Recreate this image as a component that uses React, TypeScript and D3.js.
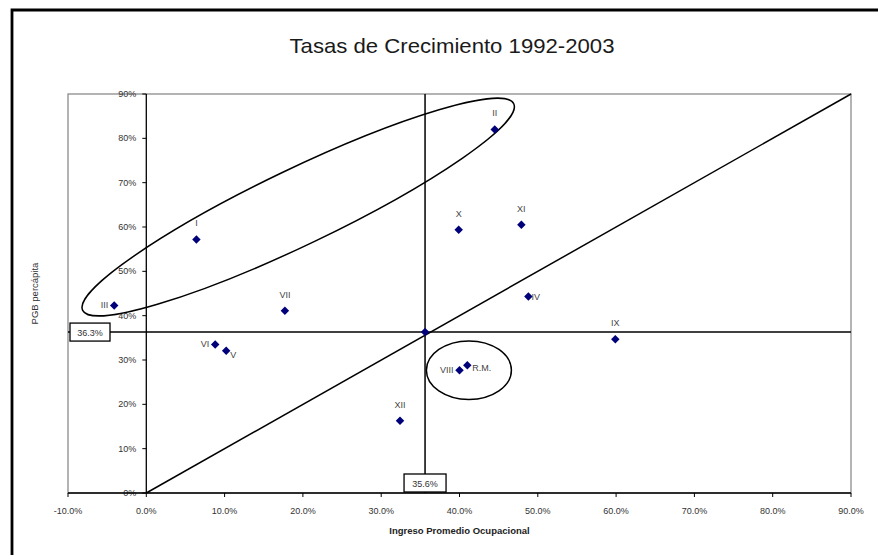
import React from "react";
import * as d3 from "d3";

// ---- Data ----
const regions = ["I", "II", "III", "IV", "V", "VI", "VII", "VIII", "IX", "X", "XI", "XII", "R.M.", ""];
const ingresoGrowth = [6.4, 44.5, -4.1, 48.8, 10.2, 8.8, 17.7, 40.0, 59.9, 39.9, 47.9, 32.4, 41.0, 35.6];
const pgbGrowth = [57.2, 82.0, 42.3, 44.3, 32.1, 33.5, 41.1, 27.7, 34.7, 59.4, 60.5, 16.3, 28.8, 36.3];
const xTicks = [-10, 0, 10, 20, 30, 40, 50, 60, 70, 80, 90];
const yTicks = [0, 10, 20, 30, 40, 50, 60, 70, 80, 90];
const avgX = 35.6;
const avgY = 36.3;
const title = "Tasas de Crecimiento 1992-2003";
const xTitle = "Ingreso Promedio Ocupacional";
const yTitle = "PGB percápita";

// label placement (layout only)
const placement: Record<string, string> = {
  I: "above", II: "above", III: "left", IV: "right", V: "belowRight", VI: "left",
  VII: "above", VIII: "left", IX: "above", X: "above", XI: "above", XII: "above", "R.M.": "rightRM",
};

const W = 878, H = 555;
const FONT = "'Liberation Sans', Arial, sans-serif";

export default function App() {
  const x = d3.scaleLinear().domain([-10, 90]).range([68, 851]);
  const y = d3.scaleLinear().domain([0, 90]).range([493, 94]);
  const pts = regions.map((r, i) => ({ r, x: ingresoGrowth[i], y: pgbGrowth[i] }));
  const marker = d3.symbol().type(d3.symbolSquare).size(36)()!;
  const diag = d3.line<number>().x((d) => x(d)).y((d) => y(d))([0, 90])!;

  const labelProps = (p: { r: string; x: number; y: number }) => {
    const px = x(p.x), py = y(p.y);
    switch (placement[p.r]) {
      case "left": return { x: px - 6, y: py + 3, anchor: "end" };
      case "right": return { x: px + 3, y: py + 3.5, anchor: "start" };
      case "rightRM": return { x: px + 5, y: py + 6, anchor: "start" };
      case "belowRight": return { x: px + 4, y: py + 7.5, anchor: "start" };
      default: return { x: px, y: py - 13, anchor: "middle" };
    }
  };

  const bigCx = x(19.4), bigCy = y(64.5);
  const smallCx = x(41.2), smallCy = y(27.7);

  return (
    <svg width={W} height={H} style={{ position: "absolute", left: 0, top: 0, background: "#fff" }} fontFamily={FONT}>
      {/* outer frame */}
      <path d={`M12,${H + 5} L12,10 L${W + 5},10`} fill="none" stroke="#000" strokeWidth={2.8} />
      {/* title */}
      <text x={452} y={53} textAnchor="middle" fontSize={21} fill="#1a1a1a" textLength={325} lengthAdjust="spacingAndGlyphs">{title}</text>

      {/* plot border */}
      <rect x={x(-10)} y={y(90)} width={x(90) - x(-10)} height={y(0) - y(90)} fill="none" stroke="#8c8c8c" strokeWidth={1.3} />

      {/* y axis */}
      <line x1={x(0)} x2={x(0)} y1={y(0)} y2={y(90)} stroke="#000" strokeWidth={1.3} />
      {yTicks.map((t) => (
        <g key={"y" + t}>
          <line x1={x(0) - 4} x2={x(0)} y1={y(t)} y2={y(t)} stroke="#000" strokeWidth={1} />
          <text x={x(0) - 10} y={y(t) + 3} textAnchor="end" fontSize={9} fill="#333">{`${t}%`}</text>
        </g>
      ))}
      {/* x axis */}
      <line x1={x(-10)} x2={x(90)} y1={y(0)} y2={y(0)} stroke="#000" strokeWidth={1.3} />
      {xTicks.map((t) => (
        <g key={"x" + t}>
          <line x1={x(t)} x2={x(t)} y1={y(0)} y2={y(0) + 4} stroke="#000" strokeWidth={1} />
          <text x={x(t)} y={y(0) + 21} textAnchor="middle" fontSize={9} fill="#333">{`${t.toFixed(1)}%`}</text>
        </g>
      ))}
      <text x={(x(-10) + x(90)) / 2} y={534} textAnchor="middle" fontSize={9.5} fontWeight="bold" fill="#222">{xTitle}</text>
      <text transform={`translate(38,${(y(0) + y(90)) / 2}) rotate(-90)`} textAnchor="middle" fontSize={9.5} fill="#333">{yTitle}</text>

      {/* reference lines */}
      <path d={diag} stroke="#000" strokeWidth={1.5} fill="none" />
      <line x1={x(-10)} x2={x(90)} y1={y(avgY)} y2={y(avgY)} stroke="#000" strokeWidth={1.5} />
      <line x1={x(avgX)} x2={x(avgX)} y1={y(0)} y2={y(90)} stroke="#000" strokeWidth={1.5} />

      {/* ellipses */}
      <ellipse cx={bigCx} cy={bigCy} rx={239} ry={38} transform={`rotate(-25.6 ${bigCx} ${bigCy})`} fill="none" stroke="#000" strokeWidth={1.5} />
      <ellipse cx={smallCx} cy={smallCy} rx={42.5} ry={29.3} fill="none" stroke="#000" strokeWidth={1.5} />

      {/* points */}
      {pts.map((p, i) => (
        <path key={"p" + i} d={marker} transform={`translate(${x(p.x)},${y(p.y)}) rotate(45)`} fill="#00007a" />
      ))}
      {pts.filter((p) => p.r).map((p, i) => {
        const l = labelProps(p);
        return (
          <text key={"l" + i} x={l.x} y={l.y} textAnchor={l.anchor as any} fontSize={9} fill="#444">{p.r}</text>
        );
      })}

      {/* value boxes */}
      <g>
        <rect x={70} y={y(avgY) - 9} width={40} height={18} fill="#fff" stroke="#000" strokeWidth={1.3} />
        <text x={90} y={y(avgY) + 3.5} textAnchor="middle" fontSize={9} fill="#333">{`${avgY}%`}</text>
      </g>
      <g>
        <rect x={x(avgX) - 21} y={y(0) - 19} width={42} height={18} fill="#fff" stroke="#000" strokeWidth={1.3} />
        <text x={x(avgX)} y={y(0) - 6.5} textAnchor="middle" fontSize={9} fill="#333">{`${avgX}%`}</text>
      </g>
    </svg>
  );
}
